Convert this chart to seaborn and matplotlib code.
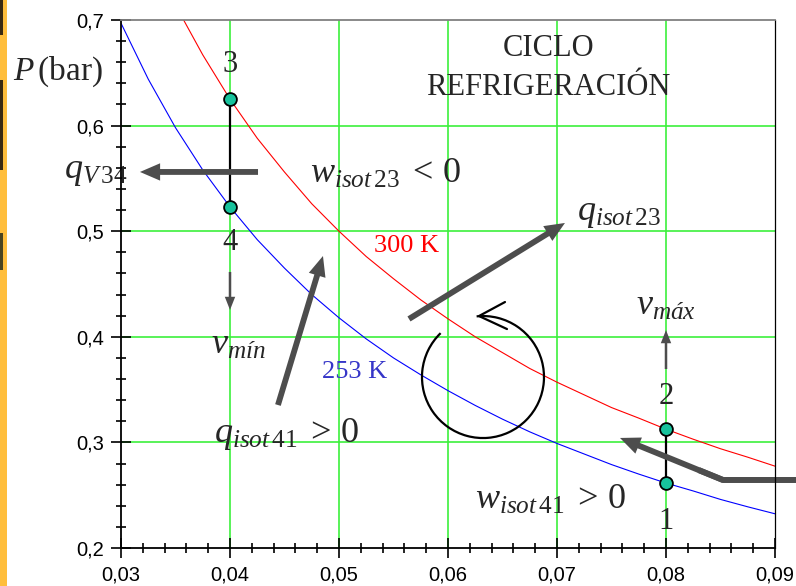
import matplotlib
matplotlib.use("Agg")
import matplotlib.pyplot as plt
import seaborn as sns
import pandas as pd
from matplotlib.patches import Arc, Rectangle, FancyArrowPatch
from matplotlib.ticker import FixedLocator, MultipleLocator
from matplotlib.transforms import ScaledTranslation

# --- data -------------------------------------------------------------
# specific volume (m^3/mol) sampled along both isotherms
v_iso = [0.0300, 0.0325, 0.0350, 0.0375, 0.0400, 0.0425, 0.0450, 0.0475,
         0.0500, 0.0525, 0.0550, 0.0575, 0.0600, 0.0625, 0.0650, 0.0675,
         0.0700, 0.0725, 0.0750, 0.0775, 0.0800, 0.0825, 0.0850, 0.0875,
         0.0900]
# pressure (bar) on the 300 K isotherm
p_300 = [0.833, 0.769, 0.714, 0.667, 0.625, 0.588, 0.556, 0.526,
         0.500, 0.476, 0.455, 0.435, 0.417, 0.400, 0.385, 0.370,
         0.357, 0.345, 0.333, 0.323, 0.3125, 0.303, 0.294, 0.286,
         0.2775]
# pressure (bar) on the 253 K isotherm
p_253 = [0.697, 0.644, 0.598, 0.558, 0.523, 0.492, 0.465, 0.440,
         0.418, 0.398, 0.380, 0.364, 0.349, 0.335, 0.322, 0.310,
         0.299, 0.289, 0.279, 0.270, 0.2615, 0.254, 0.246, 0.239,
         0.2324]

# cycle states 1-4
state_labels = ["1", "2", "3", "4"]
state_v = [0.08, 0.08, 0.04, 0.04]
state_p = [0.2615, 0.3125, 0.625, 0.523]

x_ticks = [0.03, 0.04, 0.05, 0.06, 0.07, 0.08, 0.09]
x_tick_labels = ["0,03", "0,04", "0,05", "0,06", "0,07", "0,08", "0,09"]
y_ticks = [0.2, 0.3, 0.4, 0.5, 0.6, 0.7]
y_tick_labels = ["0,2", "0,3", "0,4", "0,5", "0,6", "0,7"]

# --- style ------------------------------------------------------------
sns.set_style("white")
plt.rcParams["font.family"] = ["Liberation Serif", "DejaVu Serif"]
plt.rcParams["mathtext.fontset"] = "custom"
plt.rcParams["mathtext.rm"] = "Liberation Serif"
plt.rcParams["mathtext.it"] = "Liberation Serif:italic"
plt.rcParams["mathtext.bf"] = "Liberation Serif:bold"

fig = plt.figure(figsize=(7.96, 5.86), dpi=100)
fig.patch.set_facecolor("white")

# orange strip along the left edge of the slide
fig.patches.append(Rectangle((0, 0), 7 / 796, 1, transform=fig.transFigure,
                             facecolor="#ffbe3c", edgecolor="none", zorder=0))
for top, bot, col in [(0, 35, "#3a2a12"), (80, 170, "#3a2a12"), (233, 270, "#4a4420")]:
    fig.patches.append(Rectangle((0, 1 - bot / 586), 2.5 / 796, (bot - top) / 586,
                                 transform=fig.transFigure, facecolor=col,
                                 edgecolor="none", zorder=1))

ax = fig.add_axes([121 / 796, 38 / 586, 654 / 796, 528 / 586])
ax.set_facecolor("white")
ax.set_xlim(0.03, 0.09)
ax.set_ylim(0.2, 0.7)

# green grid on interior major ticks
grid_col = "#3cf03c"
for xv in x_ticks[1:-1]:
    ax.axvline(xv, color=grid_col, lw=1.2, zorder=0.5)
for yv in y_ticks[1:-1]:
    ax.axhline(yv, color=grid_col, lw=1.2, zorder=0.5)

# isotherms
iso = pd.DataFrame({"v": v_iso, "p300": p_300, "p253": p_253})
sns.lineplot(data=iso, x="v", y="p300", color="#ff0000", lw=0.8, ax=ax, zorder=2, sort=False)
sns.lineplot(data=iso, x="v", y="p253", color="#0000ff", lw=0.8, ax=ax, zorder=2, sort=False)

# isochoric legs 2-1 and 3-4
ax.plot([state_v[0], state_v[1]], [state_p[0], state_p[1]], color="black", lw=1.6, zorder=3)
ax.plot([state_v[2], state_v[3]], [state_p[2], state_p[3]], color="black", lw=1.6, zorder=3)

states = pd.DataFrame({"v": state_v, "p": state_p})
sns.scatterplot(data=states, x="v", y="p", s=85, color="#17c29c",
                edgecolor="black", linewidth=1.3, ax=ax, zorder=4, clip_on=False)

ax.set_xlabel("")
ax.set_ylabel("")

# ticks
ax.xaxis.set_major_locator(FixedLocator(x_ticks))
ax.yaxis.set_major_locator(FixedLocator(y_ticks))
ax.set_xticklabels(x_tick_labels, fontfamily="Liberation Sans", fontsize=14.5)
ax.set_yticklabels(y_tick_labels, fontfamily="Liberation Sans", fontsize=14.5)
ax.xaxis.set_minor_locator(MultipleLocator(0.002))
ax.yaxis.set_minor_locator(MultipleLocator(0.02))
ax.tick_params(which="major", direction="inout", length=15, width=1.2, colors="black",
               bottom=True, left=True, top=False, right=False, pad=5)
ax.tick_params(which="minor", direction="inout", length=6.5, width=1.2, colors="black",
               bottom=True, left=True, top=False, right=False)

for side in ["left", "bottom"]:
    ax.spines[side].set_color("black")
    ax.spines[side].set_linewidth(1.3)
ax.spines["top"].set_color("#808080")
ax.spines["top"].set_linewidth(1.3)
ax.spines["right"].set_color("black")
ax.spines["right"].set_linewidth(0.9)
for s in ax.spines.values():
    s.set_zorder(5)

# state numbers
num_offsets = {"1": -0.036, "2": 0.0314, "3": 0.0325, "4": -0.034}
for lab, vx, py in zip(state_labels, state_v, state_p):
    ax.text(vx, py + num_offsets[lab], lab, fontsize=22, ha="center", va="center", zorder=6)

# axis caption
ax.text(0.0201, 0.6508, r"$P\,$(bar)", fontsize=24, ha="left", va="center", clip_on=False)

ax.text(0.0692, 0.6545, "CICLO\nREFRIGERACIÓN", fontsize=22, ha="center", va="center",
        linespacing=1.42)

ax.text(0.05624, 0.4860, "300 K", color="#ff0000", fontsize=19, ha="center", va="center")
ax.text(0.05147, 0.3667, "253 K", color="#3535c8", fontsize=19, ha="center", va="center")

math_fs = 26
ax.text(0.02771, 0.5561, r"$q_{V\,34}$", fontsize=math_fs, ha="center", va="center", clip_on=False)
ax.text(0.05422, 0.5542, r"$w_{isot\,23}\;<\,0$", fontsize=math_fs, ha="center", va="center")
ax.text(0.07569, 0.5163, r"$q_{isot\,23}$", fontsize=math_fs, ha="center", va="center")
ax.text(0.04073, 0.3922, r"$v_{mín}$", fontsize=math_fs, ha="center", va="center")
ax.text(0.08, 0.4292, r"$v_{máx}$", fontsize=math_fs, ha="center", va="center")
ax.text(0.04514, 0.3080, r"$q_{isot\,41}\;>\,0$", fontsize=math_fs, ha="center", va="center")
ax.text(0.06936, 0.2455, r"$w_{isot\,41}\;>\,0$", fontsize=math_fs, ha="center", va="center")

# heat-flow arrows
arrow_col = "#4d4d4d"
big = "simple,head_length=1.45,head_width=1.25,tail_width=0.42"
small = "simple,head_length=0.95,head_width=0.75,tail_width=0.18"


def arrow(tail, tip, style):
    ax.add_patch(FancyArrowPatch(tail, tip, arrowstyle=style, mutation_scale=10,
                                 color=arrow_col, lw=0, shrinkA=0, shrinkB=0,
                                 zorder=3, clip_on=False))


arrow((0.04257, 0.5561), (0.03174, 0.5561), big)
arrow((0.04440, 0.3354), (0.04853, 0.4765), big)
arrow((0.05642, 0.4169), (0.07073, 0.5078), big)
arrow((0.08523, 0.2644), (0.07578, 0.3042), big)
ax.plot([0.09193, 0.08523, 0.08300], [0.2644, 0.2644, 0.2738], color=arrow_col,
        lw=4.3, solid_joinstyle="miter", solid_capstyle="butt", clip_on=False, zorder=3)
arrow((0.04, 0.4614), (0.04, 0.4254), small)
arrow((0.08, 0.3695), (0.08, 0.4064), small)

# cycle direction symbol: a true circle (sized in inches) centred in data space
circle_tr = fig.dpi_scale_trans + ScaledTranslation(0.06321, 0.3619, ax.transData)
ax.add_patch(Arc((0, 0), 1.22, 1.22, theta1=134, theta2=96, transform=circle_tr,
                 color="black", lw=1.6, zorder=3))
ax.plot([0.22, -0.04, 0.24], [0.75, 0.61, 0.48], transform=circle_tr,
        color="black", lw=1.6, zorder=3, solid_joinstyle="miter")

fig.savefig("out.png", dpi=100)
